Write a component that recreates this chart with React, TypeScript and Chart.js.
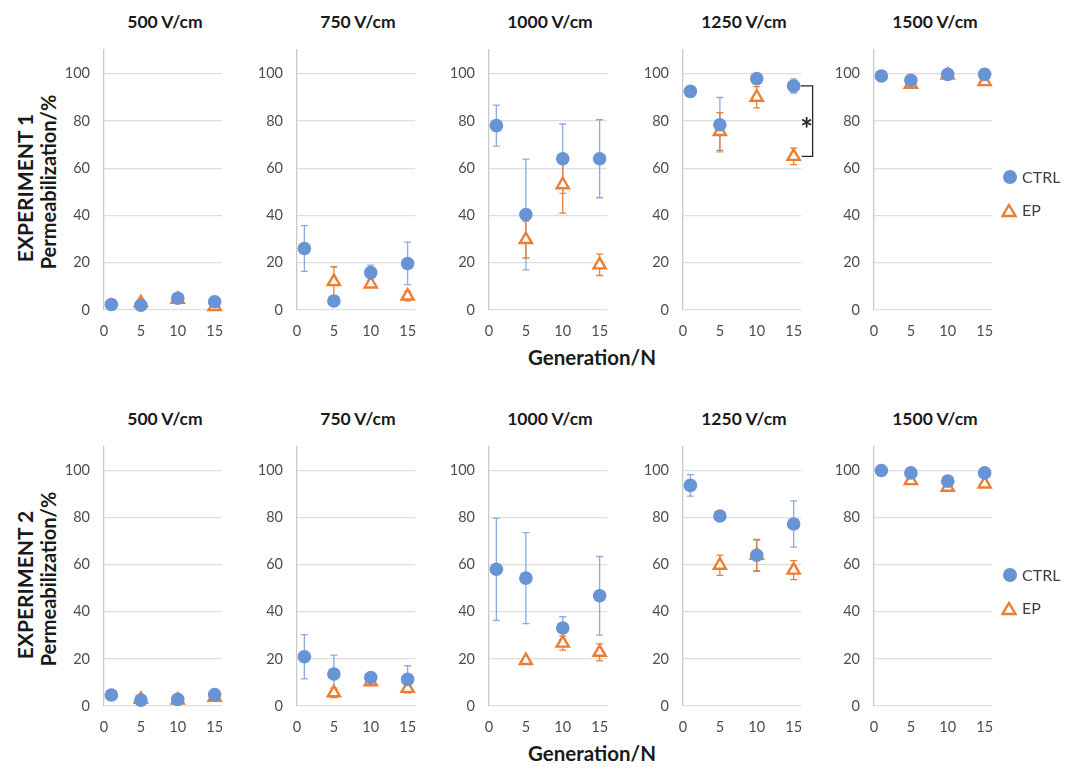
import React, { useEffect, useRef } from 'react';
import { Chart, registerables } from 'chart.js';

Chart.register(...registerables);

// ---------- data ----------
const GENERATIONS = [1, 5, 10, 15];
const FIELD_LABELS = ['500 V/cm', '750 V/cm', '1000 V/cm', '1250 V/cm', '1500 V/cm'];
const X_TICKS = [0, 5, 10, 15];
const Y_TICKS = [0, 20, 40, 60, 80, 100];
const SERIES_NAMES = ['CTRL', 'EP'];
const EXPERIMENT_LABELS = ['EXPERIMENT 1', 'EXPERIMENT 2'];

// Experiment 1 (rows: 500, 750, 1000, 1250, 1500 V/cm; cols: generation 1, 5, 10, 15)
const EXP1_CTRL = [
  [2.3, 2, 5, 3.5],
  [26, 3.8, 15.8, 19.7],
  [78, 40.4, 64, 64],
  [92.5, 78.4, 97.9, 94.8],
  [99, 97.2, 99.7, 99.7],
];
const EXP1_CTRL_ERR = [
  [0, 0, 0, 0],
  [9.7, 0, 3.2, 9],
  [8.7, 23.4, 14.7, 16.5],
  [0, 11.5, 0, 3],
  [0, 0, 0, 0],
];
const EXP1_EP = [
  [null, 3, 4.5, 1.5],
  [null, 12, 11, 5.9],
  [null, 29.8, 53, 19.1],
  [null, 75.5, 90, 65],
  [null, 95.5, 99.4, 96.6],
];
const EXP1_EP_ERR = [
  [0, 0, 0, 0],
  [0, 6.3, 0, 2],
  [0, 7.8, 12, 4.5],
  [0, 8, 4.5, 3.5],
  [0, 0, 0, 0],
];

// Experiment 2
const EXP2_CTRL = [
  [4.7, 2.5, 2.8, 4.9],
  [20.9, 13.6, 12.1, 11.3],
  [58.1, 54.3, 33.1, 46.8],
  [93.7, 80.7, 64, 77.3],
  [100, 99, 95.5, 99],
];
const EXP2_CTRL_ERR = [
  [0, 0, 0, 0],
  [9.4, 8, 0, 5.8],
  [21.7, 19.3, 4.8, 16.7],
  [4.6, 0, 6.5, 9.8],
  [0, 0, 0, 0],
];
const EXP2_EP = [
  [null, 2.8, 2.5, 3.7],
  [null, 5.6, 10.3, 7.5],
  [null, 19.3, 26.7, 22.8],
  [null, 59.8, 64, 57.7],
  [null, 95.7, 92.9, 94.3],
];
const EXP2_EP_ERR = [
  [0, 1.5, 1, 0],
  [0, 2, 1, 1],
  [0, 0, 3, 3.6],
  [0, 4.3, 6.8, 4],
  [0, 0, 0, 0],
];

// significance marker: experiment 1, 1250 V/cm, generation 15
const SIGNIFICANCE = { experiment: 0, panel: 3, genIndex: 3, label: '*' };

// ---------- style / layout ----------
const FONT = 'Lato, "Open Sans", sans-serif';
const CTRL_COLOR = '#6893D4';
const CTRL_ERR_COLOR = '#8EAADB';
const EP_COLOR = '#ED7D31';
const TICK_COLOR = '#4D4D4D';
const GRID_COLOR = '#DEDEDE';
const AXIS_X = [104, 297, 489, 683, 874];
const PLOT_W = 118;
const ROWS = [
  { top: 50, bottom: 310 },
  { top: 447, bottom: 706 },
];
const Y_AXIS_W = 55;
const PAD_TOP = 12;
const PAD_RIGHT = 20;
const X_AXIS_H = 34;

const EXPERIMENTS = [
  { ctrl: EXP1_CTRL, ctrlErr: EXP1_CTRL_ERR, ep: EXP1_EP, epErr: EXP1_EP_ERR },
  { ctrl: EXP2_CTRL, ctrlErr: EXP2_CTRL_ERR, ep: EXP2_EP, epErr: EXP2_EP_ERR },
];

const errorBarPlugin = {
  id: 'errorBars',
  beforeDatasetsDraw(chart: any) {
    const { ctx, scales } = chart;
    const xs = scales.x;
    const ys = scales.y;
    chart.data.datasets.forEach((ds: any) => {
      const errs: number[] = ds.errors;
      if (!errs) return;
      ctx.save();
      ctx.strokeStyle = ds.errorColor;
      ctx.lineWidth = 1.3;
      ds.data.forEach((p: any, i: number) => {
        if (!p || p.y == null || !errs[i]) return;
        const px = xs.getPixelForValue(p.x);
        const t = ys.getPixelForValue(p.y + errs[i]);
        const b = ys.getPixelForValue(Math.max(0, p.y - errs[i]));
        ctx.beginPath();
        ctx.moveTo(px, t);
        ctx.lineTo(px, b);
        ctx.moveTo(px - 3.5, t);
        ctx.lineTo(px + 3.5, t);
        ctx.moveTo(px - 3.5, b);
        ctx.lineTo(px + 3.5, b);
        ctx.stroke();
      });
      ctx.restore();
    });
  },
};

function makeBracketPlugin(ctrlVal: number, epVal: number, gen: number, label: string) {
  return {
    id: 'sigBracket',
    afterDatasetsDraw(chart: any) {
      const { ctx, scales } = chart;
      const px = scales.x.getPixelForValue(gen);
      const yTop = scales.y.getPixelForValue(ctrlVal);
      const yBot = scales.y.getPixelForValue(epVal);
      const bx = px + 19;
      ctx.save();
      ctx.strokeStyle = '#262626';
      ctx.lineWidth = 1.3;
      ctx.beginPath();
      ctx.moveTo(px + 7, yTop);
      ctx.lineTo(bx, yTop);
      ctx.lineTo(bx, yBot);
      ctx.lineTo(px + 8, yBot);
      ctx.stroke();
      ctx.fillStyle = '#262626';
      ctx.font = `bold 30px ${FONT}`;
      ctx.textAlign = 'center';
      ctx.textBaseline = 'middle';
      ctx.fillText(label, bx - 6, (yTop + yBot) / 2 + 9);
      ctx.restore();
    },
  };
}

function Panel({ exp, panel }: { exp: number; panel: number }) {
  const ref = useRef<HTMLCanvasElement>(null);
  const row = ROWS[exp];
  const width = Y_AXIS_W + PLOT_W + PAD_RIGHT;
  const height = PAD_TOP + (row.bottom - row.top) + X_AXIS_H;
  useEffect(() => {
    const d = EXPERIMENTS[exp];
    const ctrlData = GENERATIONS.map((g, i) => ({ x: g, y: d.ctrl[panel][i] }));
    const epData = GENERATIONS.map((g, i) => ({ x: g, y: d.ep[panel][i] })).filter((p) => p.y != null);
    const epErr = GENERATIONS.map((_, i) => d.epErr[panel][i]).filter((_, i) => d.ep[panel][i] != null);
    const plugins: any[] = [errorBarPlugin];
    if (SIGNIFICANCE.experiment === exp && SIGNIFICANCE.panel === panel) {
      const gi = SIGNIFICANCE.genIndex;
      plugins.push(makeBracketPlugin(d.ctrl[panel][gi] as number, d.ep[panel][gi] as number, GENERATIONS[gi], SIGNIFICANCE.label));
    }
    const chart = new Chart(ref.current as HTMLCanvasElement, {
      type: 'scatter',
      data: {
        datasets: [
          {
            label: SERIES_NAMES[0],
            data: ctrlData,
            pointStyle: 'circle',
            pointRadius: 6.8,
            backgroundColor: CTRL_COLOR,
            borderColor: CTRL_COLOR,
            borderWidth: 0,
            clip: false,
            errors: d.ctrlErr[panel],
            errorColor: CTRL_ERR_COLOR,
          } as any,
          {
            label: SERIES_NAMES[1],
            data: epData,
            pointStyle: 'triangle',
            pointRadius: 7,
            backgroundColor: '#FFFFFF',
            borderColor: EP_COLOR,
            borderWidth: 2.4,
            clip: false,
            errors: epErr,
            errorColor: EP_COLOR,
          } as any,
        ],
      },
      options: {
        animation: false,
        responsive: false,
        devicePixelRatio: 1,
        events: [],
        layout: { autoPadding: false, padding: { top: PAD_TOP, right: PAD_RIGHT, left: 0, bottom: 0 } },
        plugins: { legend: { display: false }, tooltip: { enabled: false }, title: { display: false } },
        scales: {
          x: {
            type: 'linear',
            min: 0,
            max: 16,
            afterBuildTicks: (s: any) => {
              s.ticks = X_TICKS.map((v) => ({ value: v }));
            },
            afterFit: (s: any) => {
              s.height = X_AXIS_H;
              s.paddingLeft = 0;
              s.paddingRight = 0;
            },
            grid: { display: false, drawTicks: false },
            border: { display: false },
            ticks: { color: TICK_COLOR, font: { family: FONT, size: 14.5 }, padding: 13, maxRotation: 0 },
          },
          y: {
            type: 'linear',
            min: 0,
            max: 110,
            afterBuildTicks: (s: any) => {
              s.ticks = Y_TICKS.map((v) => ({ value: v }));
            },
            afterFit: (s: any) => {
              s.width = Y_AXIS_W;
              s.paddingTop = 0;
              s.paddingBottom = 0;
            },
            grid: { color: GRID_COLOR, drawTicks: false, lineWidth: 1.2 },
            border: { display: true, color: '#C8C8C8', width: 1.3 },
            ticks: { color: TICK_COLOR, font: { family: FONT, size: 14.5 }, padding: 14 },
          },
        },
      } as any,
      plugins,
    });
    return () => chart.destroy();
  }, [exp, panel]);
  return (
    <canvas
      ref={ref}
      width={width}
      height={height}
      style={{
        position: 'absolute',
        left: AXIS_X[panel] - Y_AXIS_W,
        top: row.top - PAD_TOP,
        width,
        height,
      }}
    />
  );
}

function Legend({ top }: { top: number }) {
  return (
    <>
      <div style={{ position: 'absolute', left: 1003, top: top - 7, width: 14, height: 14, borderRadius: 7, background: CTRL_COLOR }} />
      <div style={{ position: 'absolute', left: 1022, top: top - 11, fontFamily: FONT, fontSize: 16, color: '#404040', lineHeight: '22px' }}>
        {SERIES_NAMES[0]}
      </div>
      <svg style={{ position: 'absolute', left: 1001, top: top + 26 }} width={16} height={15}>
        <polygon points="8,2 14.5,13 1.5,13" fill="#fff" stroke={EP_COLOR} strokeWidth={2.4} />
      </svg>
      <div style={{ position: 'absolute', left: 1022, top: top + 22, fontFamily: FONT, fontSize: 16, color: '#404040', lineHeight: '22px' }}>
        {SERIES_NAMES[1]}
      </div>
    </>
  );
}

function RowLabels({ exp }: { exp: number }) {
  const row = ROWS[exp];
  const cy = (row.top + row.bottom) / 2;
  const common: React.CSSProperties = {
    position: 'absolute',
    fontFamily: FONT,
    fontWeight: 700,
    color: '#1a1a1a',
    whiteSpace: 'nowrap',
    transform: 'translate(-50%, -50%) rotate(-90deg)',
  };
  return (
    <>
      <div style={{ ...common, left: 24, top: cy + 8, fontSize: 21 }}>{EXPERIMENT_LABELS[exp]}</div>
      <div style={{ ...common, left: 48, top: cy + 2, fontSize: 20 }}>Permeabilization/%</div>
      {FIELD_LABELS.map((f, i) => (
        <div
          key={f}
          style={{
            position: 'absolute',
            left: AXIS_X[i] + PLOT_W / 2 + 2,
            top: row.top - 29,
            transform: 'translate(-50%, -50%)',
            fontFamily: FONT,
            fontWeight: 700,
            fontSize: 17.5,
            color: '#1a1a1a',
            whiteSpace: 'nowrap',
          }}
        >
          {f}
        </div>
      ))}
      <div
        style={{
          position: 'absolute',
          left: 592,
          top: row.bottom + 47,
          transform: 'translate(-50%, -50%)',
          fontFamily: FONT,
          fontWeight: 700,
          fontSize: 20.5,
          color: '#1a1a1a',
          whiteSpace: 'nowrap',
        }}
      >
        Generation/N
      </div>
    </>
  );
}

export default function App() {
  return (
    <div style={{ position: 'absolute', left: 0, top: 0, width: 1067, height: 773, background: '#fff', overflow: 'hidden' }}>
      {[0, 1].map((exp) => (
        <React.Fragment key={exp}>
          <RowLabels exp={exp} />
          {FIELD_LABELS.map((_, p) => (
            <Panel key={p} exp={exp} panel={p} />
          ))}
        </React.Fragment>
      ))}
      <Legend top={177} />
      <Legend top={575} />
    </div>
  );
}
